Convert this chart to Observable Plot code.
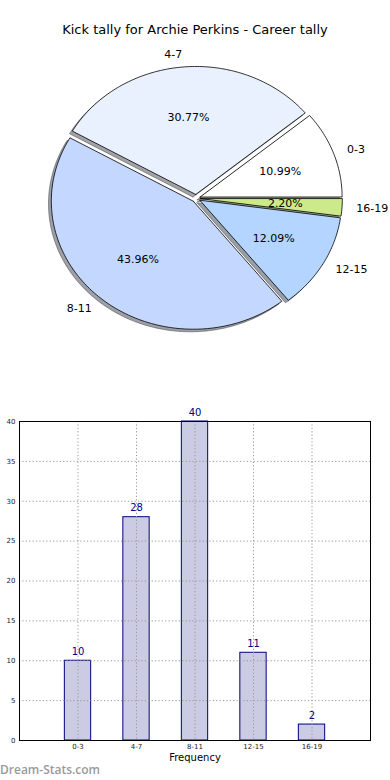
<!DOCTYPE html>
<html><head><meta charset="utf-8">
<script src="https://cdn.jsdelivr.net/npm/d3@7"></script>
<script src="https://cdn.jsdelivr.net/npm/@observablehq/plot@0.6"></script>
<style>
body{margin:0;background:#fff;font-family:"DejaVu Sans",sans-serif;}
#wrap{position:relative;width:390px;height:780px;overflow:hidden;background:#fff;}
#title{position:absolute;left:0;top:21px;width:390px;text-align:center;font-size:13px;line-height:18px;color:#000;}
#pie{position:absolute;left:0;top:40px;}
#bar{position:absolute;left:0;top:380px;}
#wm{position:absolute;left:0;top:762px;font:600 12px "Open Sans",sans-serif;line-height:16px;color:#9a9a9a;}
</style></head><body>
<div id="wrap">
<div id="title">Kick tally for Archie Perkins - Career tally</div>
<div id="pie"></div>
<div id="bar"></div>
<div id="wm">Dream-Stats.com</div>
</div>
<script>
// ---- data ----
const categories = ["0-3", "4-7", "8-11", "12-15", "16-19"];
const counts = [10, 28, 40, 11, 2];
const sliceColors = ["#ffffff", "#e9f1ff", "#c4d8ff", "#b3d5ff", "#cdea8a"];
const yTicks = [0, 5, 10, 15, 20, 25, 30, 35, 40];
const titleText = "Kick tally for Archie Perkins - Career tally";
const xLabel = "Frequency";

// ---- pie geometry (unit radius, stretched by scales) ----
const RX = 142, RY = 128;          // pixel size of unit radius
const CX = 195.6, CY = 157.8;      // pie centre within svg
const PW = 390, PH = 340;
const explode = 0.03;
const shadowOff = 0.02;
const total = d3.sum(counts);

let acc = 0;
const slices = categories.map((c, i) => {
  const a0 = acc / total * 2 * Math.PI;
  acc += counts[i];
  const a1 = acc / total * 2 * Math.PI;
  const mid = (a0 + a1) / 2;
  const ox = explode * Math.cos(mid), oy = explode * Math.sin(mid);
  const n = Math.max(2, Math.ceil((a1 - a0) / (Math.PI / 180)));
  const pts = [{x: ox, y: oy}];
  for (let k = 0; k <= n; k++) {
    const a = a0 + (a1 - a0) * k / n;
    pts.push({x: ox + Math.cos(a), y: oy + Math.sin(a)});
  }
  pts.push({x: ox, y: oy});
  const shadow = pts.map(p => ({x: p.x - shadowOff, y: p.y - shadowOff}));
  const col = d3.rgb(sliceColors[i]);
  const shCol = d3.rgb(col.r * 0.3, col.g * 0.3, col.b * 0.3).formatHex();
  return {
    cat: c, value: counts[i], mid, ox, oy, pts, shadow, color: sliceColors[i], shCol,
    lx: ox + 1.1 * Math.cos(mid), ly: oy + 1.1 * Math.sin(mid),
    px: ox + 0.6 * Math.cos(mid), py: oy + 0.6 * Math.sin(mid),
    pct: (counts[i] / total * 100).toFixed(2) + "%"
  };
});

const pieMarks = [];
for (const s of slices) {
  pieMarks.push(Plot.line(s.shadow, {x: "x", y: "y", fill: s.shCol, fillOpacity: 0.5, stroke: s.shCol, strokeOpacity: 0.5, strokeWidth: 1, curve: "linear"}));
}
for (const s of slices) {
  pieMarks.push(Plot.line(s.pts, {x: "x", y: "y", fill: s.color, stroke: "#000", strokeWidth: 0.8, curve: "linear", strokeLinejoin: "miter"}));
}
pieMarks.push(Plot.text(slices.filter(s => Math.cos(s.mid) > 0), {x: "lx", y: "ly", text: "cat", textAnchor: "start", fontSize: 11, fill: "#000"}));
pieMarks.push(Plot.text(slices.filter(s => Math.cos(s.mid) <= 0), {x: "lx", y: "ly", text: "cat", textAnchor: "end", fontSize: 11, fill: "#000"}));
pieMarks.push(Plot.text(slices, {x: "px", y: "py", text: "pct", fontSize: 11, fill: "#000"}));

const pie = Plot.plot({
  width: PW, height: PH, margin: 0,
  style: {fontFamily: "DejaVu Sans", background: "transparent"},
  x: {domain: [-CX / RX, (PW - CX) / RX], axis: null},
  y: {domain: [-(PH - CY) / RY, CY / RY], axis: null},
  marks: pieMarks
});
document.getElementById("pie").appendChild(pie);

// ---- bar chart ----
const barData = categories.map((c, i) => ({cat: c, i, n: counts[i]}));
const halfW = 0.225;
const bar = Plot.plot({
  width: 390, height: 400,
  marginLeft: 19, marginRight: 20, marginTop: 41, marginBottom: 40,
  style: {fontFamily: "DejaVu Sans", background: "transparent", color: "#222"},
  x: {domain: [-1, categories.length], ticks: barData.map(d => d.i), tickFormat: i => categories[i], tickSize: 0, tickPadding: 4, label: null, fontSize: 7},
  y: {domain: [0, 40], ticks: yTicks, tickSize: 0, tickPadding: 4, label: null},
  marks: [
    Plot.rect(barData, {x1: d => d.i - halfW, x2: d => d.i + halfW, y1: 0, y2: "n", fill: "#cbcbe3", stroke: "#000080", strokeWidth: 1}),
    Plot.ruleX(barData, {x: "i", stroke: "#999", strokeDasharray: "1.2,2.2", strokeWidth: 1}),
    Plot.ruleY(yTicks.slice(1, -1), {y: d => d, stroke: "#999", strokeDasharray: "1.2,2.2", strokeWidth: 1}),
    Plot.frame({stroke: "#000", strokeWidth: 1}),
    Plot.text(barData, {x: "i", y: "n", text: d => String(d.n), dy: -9, fill: "#00008b", fontSize: 10}),
    Plot.text([xLabel], {frameAnchor: "bottom", text: d => d, dy: 20, fontSize: 10, fill: "#000"})
  ]
});
bar.querySelectorAll("g[aria-label='x-axis tick label'] text, g[aria-label='y-axis tick label'] text").forEach(t => t.setAttribute("font-size", "7"));
bar.querySelectorAll("g[aria-label='x-axis tick label'], g[aria-label='y-axis tick label']").forEach(g => g.setAttribute("font-size", "7"));
document.getElementById("bar").appendChild(bar);
</script>
</body></html>
